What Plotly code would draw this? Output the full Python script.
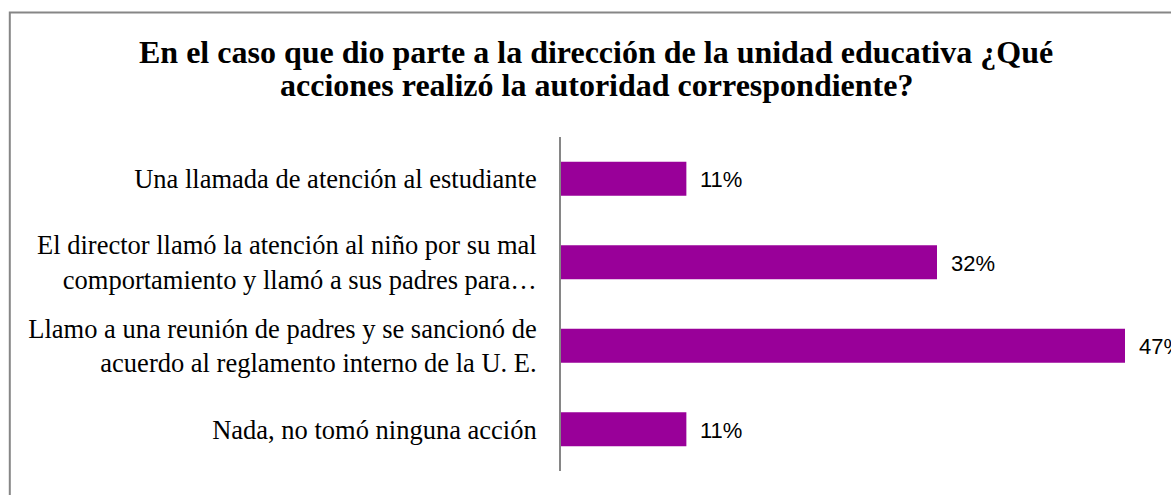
import plotly.graph_objects as go

categories = [
    "Una llamada de atención al estudiante",
    "El director llamó la atención al niño por su mal<br>comportamiento y llamó a sus padres para…",
    "Llamo a una reunión de padres y se sancionó de<br>acuerdo al reglamento interno de la U. E.",
    "Nada, no tomó ninguna acción",
]
values = [10.53, 31.58, 47.37, 10.53]
value_labels = ["11%", "32%", "47%", "11%"]

title_lines = [
    "En el caso que dio parte a la dirección de la unidad educativa ¿Qué",
    "acciones realizó la autoridad correspondiente?",
]

W, H = 1171, 495
L, R, T, B = 561, 46, 137, 24
PW, PH = W - L - R, H - T - B

def px_to_paper_x(x):
    return (x - L) / PW

def px_to_paper_y(y):
    return (H - B - y) / PH

serif = "Liberation Serif, Times New Roman, serif"
sans = "Liberation Sans, Arial, sans-serif"

fig = go.Figure()
fig.add_trace(go.Bar(
    x=values, y=categories, orientation="h",
    marker=dict(color="#990099", line=dict(width=0)),
    width=0.41, hoverinfo="skip",
))

for v, c, t in zip(values, categories, value_labels):
    fig.add_annotation(x=v, y=c, text=t, showarrow=False, xanchor="left",
                       xshift=12, yshift=-1,
                       font=dict(family=sans, size=22, color="#000000"))

for line, cy in zip(title_lines, [52, 85]):
    fig.add_annotation(xref="paper", yref="paper", x=px_to_paper_x(596), y=px_to_paper_y(cy),
                       text="<b>" + line + "</b>", showarrow=False,
                       xanchor="center", yanchor="middle",
                       font=dict(family=serif, size=32, color="#000000"))

fig.update_layout(
    width=W, height=H,
    margin=dict(l=L, r=R, t=T, b=B),
    paper_bgcolor="white", plot_bgcolor="white",
    showlegend=False,
    xaxis=dict(range=[0, 47.37], visible=False, fixedrange=True),
    yaxis=dict(autorange="reversed", showline=True, linecolor="#868686", linewidth=2,
               showgrid=False, ticks="", ticklabelstandoff=17, zeroline=False,
               tickfont=dict(family=serif, size=26.5, color="#000000")),
    shapes=[dict(type="rect", xref="paper", yref="paper",
                 x0=px_to_paper_x(9.8), x1=px_to_paper_x(W + 40),
                 y0=px_to_paper_y(H + 40), y1=px_to_paper_y(12.5),
                 line=dict(color="#868686", width=2), fillcolor="rgba(0,0,0,0)", layer="above")],
)

fig.write_html("out.html",
               config={"displayModeBar": False},
               post_script="document.body.style.margin='0px';document.body.style.overflow='hidden';")
